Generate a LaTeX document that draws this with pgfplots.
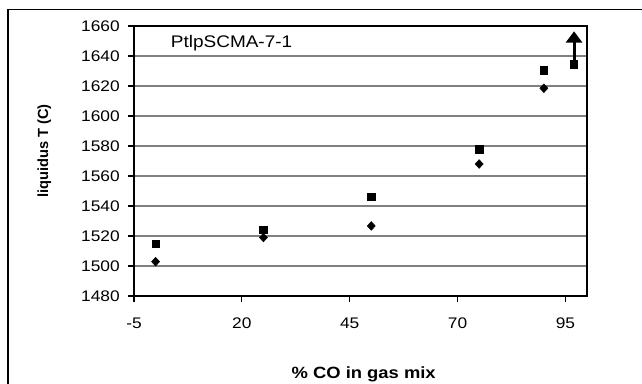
\documentclass[border=0pt]{standalone}
\usepackage{fontspec}
\setmainfont[FakeStretch=1.13]{Liberation Sans}
\newfontfamily\rotfont{Liberation Sans}
\usepackage{pgfplots}
\pgfplotsset{compat=1.18}
\usetikzlibrary{arrows.meta}
\definecolor{gridgray}{HTML}{808080}
\begin{document}
\begin{tikzpicture}
\path[use as bounding box] (0pt,0pt) rectangle (481.5pt,-287.25pt);
\draw[line width=1pt] (6pt,-7pt) rectangle (520pt,-320pt);
\begin{axis}[
  at={(100.5pt,-19.5pt)}, anchor=north west,
  scale only axis, width=339.75pt, height=202.5pt,
  xmin=-5, xmax=100, ymin=1480, ymax=1660,
  xtick={-5,20,45,70,95}, xticklabels={-5,20,45,70,95},
  ytick={1480,1500,...,1660},
  /pgf/number format/1000 sep={},
  /pgf/number format/assume math mode=true,
  axis line style={line width=1.6pt},
  ymajorgrids, major grid style={gridgray, line width=0.8pt},
  tick align=outside, tick pos=left, major tick length=4.5pt,
  tick style={black, line width=0.8pt},
  ticklabel style={font=\fontsize{11.5}{13}\selectfont, inner sep=0pt},
  yticklabel style={anchor=east, xshift=-6pt},
  xticklabel style={anchor=base, yshift=-20pt},
  xlabel={\% CO in gas mix},
  xlabel style={font=\fontsize{12.2}{14}\selectfont\bfseries, at={(rel axis cs:0.507,0)}, anchor=base, yshift=-61.5pt, inner sep=0pt},
  ylabel={liquidus T (C)},
  ylabel style={font=\rotfont\fontsize{11}{13}\selectfont\bfseries, at={(rel axis cs:-0.1898,0.537)}, anchor=base, inner sep=0pt},
  clip=false,
]
\addplot[line width=2.2pt, -{Triangle[width=12pt,length=8.5pt]}, quiver={u=0,v=20.5}] coordinates {(97,1636)};
\addplot[only marks, mark=square*, mark size=2.75pt, black] coordinates {
  (0,1514.7) (25,1524) (50,1546.2) (75,1577.8) (90,1630.4) (97,1634.5)};
\addplot[only marks, mark=diamond*, mark size=3.25pt, mark options={xscale=1.23}, black] coordinates {
  (0,1502.9) (25,1519) (50,1526.7) (75,1568) (90,1618.5)};
\node[anchor=base west, inner sep=0pt, font=\fontsize{12.6}{14}\selectfont] at (axis cs:3.5,1646) {PtlpSCMA-7-1};
\end{axis}
\end{tikzpicture}
\end{document}
